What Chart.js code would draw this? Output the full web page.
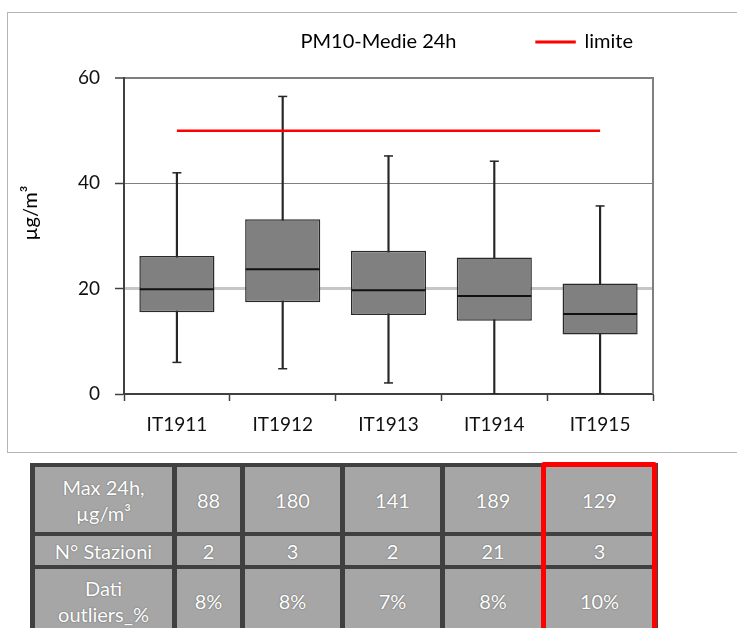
<!DOCTYPE html>
<html>
<head>
<meta charset="utf-8">
<script src="https://cdn.jsdelivr.net/npm/chart.js@4.4.1/dist/chart.umd.min.js"></script>
<style>
  html, body { margin: 0; padding: 0; background: #fff; width: 737px; height: 628px; overflow: hidden; }
  #frame { position: absolute; left: 7px; top: 12px; width: 740px; height: 439px; border: 1px solid #b4b4b4; }
  #c { position: absolute; left: 0; top: 0; }
  table { position: absolute; left: 30px; top: 463px; border-collapse: separate; border-spacing: 5px 4px; background: #404040; }
  td { background: #a6a6a6; color: #fff; font-family: Lato, "Liberation Sans", sans-serif; font-size: 20px; text-align: center; vertical-align: middle; padding: 0; line-height: 26px; text-shadow: 0 0 1.5px #555; }
  #red { position: absolute; left: 541px; top: 462px; width: 116px; height: 200px; border: 5px solid #ff0000; box-sizing: border-box; border-radius: 3px; }
</style>
</head>
<body>
<div id="frame"></div>
<canvas id="c" width="737" height="460"></canvas>
<table id="tbl"></table>
<div id="red"></div>
<script>
const categories = ['IT1911', 'IT1912', 'IT1913', 'IT1914', 'IT1915'];
const whiskerMin = [6.0, 4.8, 2.1, 0, 0];
const q1 = [15.5, 17.4, 15.0, 13.9, 11.3];
const median = [19.9, 23.7, 19.7, 18.6, 15.2];
const q3 = [26.2, 33.2, 27.2, 25.9, 21.0];
const whiskerMax = [42.0, 56.5, 45.2, 44.2, 35.7];
const limitValue = [50, 50, 50, 50, 50];
const yTicks = [0, 20, 40, 60];

const tableRowLabels = ['Max 24h,<br>µg/m³', 'N° Stazioni', 'Dati<br>outliers_%'];
const maxDaily = ['88', '180', '141', '189', '129'];
const nStations = ['2', '3', '2', '21', '3'];
const outliersPct = ['8%', '8%', '7%', '8%', '10%'];

// Build table
const colWidths = [137, 63, 95, 95, 96, 107];
const rowHeights = [65, 29, 64];
const rows = [maxDaily, nStations, outliersPct];
const tbl = document.getElementById('tbl');
rows.forEach((vals, r) => {
  const tr = document.createElement('tr');
  const th = document.createElement('td');
  th.innerHTML = tableRowLabels[r];
  th.style.width = colWidths[0] + 'px';
  th.style.height = rowHeights[r] + 'px';
  tr.appendChild(th);
  vals.forEach((v, i) => {
    const td = document.createElement('td');
    td.textContent = v;
    td.style.width = colWidths[i + 1] + 'px';
    td.style.height = rowHeights[r] + 'px';
    tr.appendChild(td);
  });
  tbl.appendChild(tr);
});

const FONT = 'Lato';

const extras = {
  id: 'extras',
  beforeDatasetsDraw(chart) {
    const { ctx, chartArea } = chart;
    ctx.save();
    ctx.strokeStyle = '#7f7f7f';
    ctx.lineWidth = 2;
    ctx.beginPath();
    ctx.moveTo(chartArea.right, chartArea.top - 1);
    ctx.lineTo(chartArea.right, chartArea.bottom);
    ctx.stroke();
    ctx.restore();
  },
  afterDraw(chart) {
    const { ctx, chartArea } = chart;
    ctx.save();
    // title on legend row
    const hb = chart.legend.legendHitBoxes[0];
    const cy = hb.top + hb.height / 2;
    ctx.font = '20px ' + FONT;
    ctx.fillStyle = '#000';
    ctx.textAlign = 'center';
    ctx.textBaseline = 'middle';
    ctx.fillText('PM10-Medie 24h', (chartArea.left + chartArea.right) / 2 - 10, cy);
    // y axis title
    const ys = chart.scales.y;
    ctx.translate(ys.left + 15, (chartArea.top + chartArea.bottom) / 2 - 23);
    ctx.rotate(-Math.PI / 2);
    ctx.font = '20px ' + FONT;
    ctx.fillText('µg/m³', 0, 0);
    ctx.restore();
  }
};

new Chart(document.getElementById('c'), {
  data: {
    labels: categories,
    datasets: [
      {
        type: 'line', label: 'limite', data: limitValue, order: 1,
        borderColor: '#ff0000', backgroundColor: '#ff0000', borderWidth: 2.5,
        pointRadius: 0
      },
      {
        type: 'line', label: 'max', data: whiskerMax, order: 2, showLine: false,
        pointStyle: 'line', pointRadius: 4.5, pointBorderWidth: 1.5,
        pointBorderColor: '#262626', borderColor: '#262626'
      },
      {
        type: 'line', label: 'min', data: whiskerMin, order: 2, showLine: false,
        pointStyle: 'line', pointRadius: 4.5, pointBorderWidth: 1.5,
        pointBorderColor: '#262626', borderColor: '#262626'
      },
      {
        type: 'line', label: 'mediana', data: median, order: 3, showLine: false,
        pointStyle: 'line', pointRadius: 37, pointBorderWidth: 2,
        pointBorderColor: '#111', borderColor: '#111'
      },
      {
        type: 'bar', label: 'box', data: q1.map((v, i) => [v, q3[i]]), order: 4,
        backgroundColor: '#808080', borderColor: '#2a2a2a', borderWidth: 1.5,
        borderSkipped: false, barPercentage: 0.71, categoryPercentage: 1, grouped: false
      },
      {
        type: 'bar', label: 'whisker', data: whiskerMin.map((v, i) => [v, whiskerMax[i]]), order: 5,
        backgroundColor: '#262626', barThickness: 1.5, grouped: false
      }
    ]
  },
  options: {
    responsive: false,
    animation: false,
    layout: { padding: { top: 12, left: 16, right: 84, bottom: 0 } },
    plugins: {
      tooltip: { enabled: false },
      legend: {
        display: true, position: 'top', align: 'end', fullSize: false,
        labels: {
          filter: (item) => item.text === 'limite',
          font: { family: FONT, size: 20 }, color: '#000',
          boxWidth: 38, boxHeight: 0.5, padding: 20
        }
      },
      subtitle: {
        display: true, text: '', position: 'top', weight: 500, fullSize: false,
        font: { size: 10, lineHeight: 1 }, padding: { top: 3, bottom: 3 }
      },
      title: { display: false }
    },
    scales: {
      x: {
        type: 'category', offset: true,
        grid: { offset: true, drawOnChartArea: false, drawTicks: true, tickLength: 7, tickColor: '#404040', tickWidth: 1.5 },
        border: { display: true, color: '#404040', width: 2 },
        ticks: { font: { family: FONT, size: 19 }, color: '#111', padding: 12 },
        afterFit: (s) => { s.height = 66; }
      },
      y: {
        min: 0, max: 60,
        afterBuildTicks: (s) => { s.ticks = yTicks.map(v => ({ value: v })); },
        grid: {
          color: (c) => c.tick && c.tick.value === 20 ? '#c6c6c6' : (c.tick && c.tick.value === 0 ? 'rgba(0,0,0,0)' : '#7f7f7f'),
          lineWidth: (c) => c.tick && c.tick.value === 20 ? 3 : (c.tick && c.tick.value === 60 ? 2 : 1),
          tickColor: '#404040', tickWidth: 1.5, tickLength: 9, drawTicks: true
        },
        border: { display: true, color: '#404040', width: 2 },
        ticks: { font: { family: FONT, size: 19 }, color: '#111', padding: 15 },
        afterFit: (s) => { s.width = 108; }
      }
    }
  },
  plugins: [extras]
});
</script>
</body>
</html>
